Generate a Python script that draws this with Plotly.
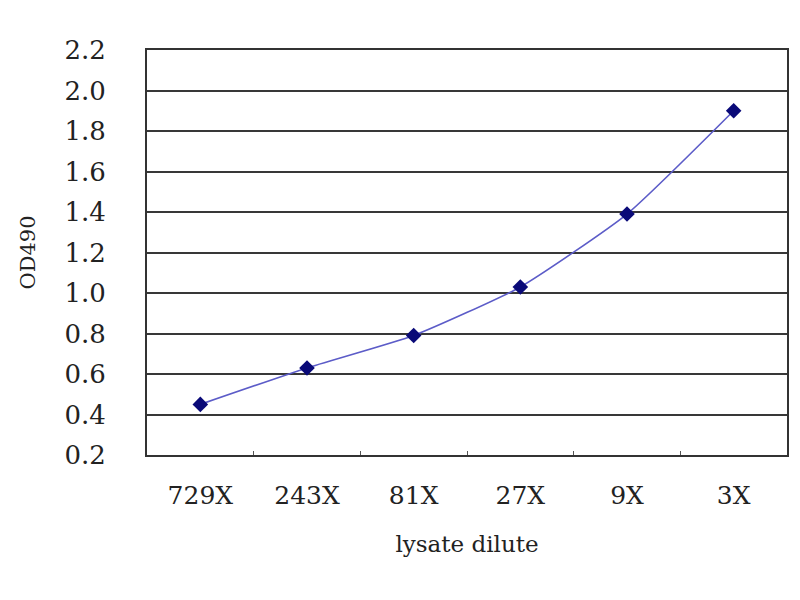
import plotly.graph_objects as go

categories = ["729X", "243X", "81X", "27X", "9X", "3X"]
od_values = [0.45, 0.63, 0.79, 1.03, 1.39, 1.90]
y_ticks = [0.2, 0.4, 0.6, 0.8, 1.0, 1.2, 1.4, 1.6, 1.8, 2.0, 2.2]
y_tick_labels = ["0.2", "0.4", "0.6", "0.8", "1.0", "1.2", "1.4", "1.6", "1.8", "2.0", "2.2"]

fig = go.Figure()
fig.add_trace(go.Scatter(
    x=categories, y=od_values, mode="lines+markers",
    line=dict(color="#5c5cc8", width=1.6, shape="spline", smoothing=0.5),
    marker=dict(symbol="diamond", size=12, color="#0a0a78"),
    showlegend=False,
))

font_family = "DejaVu Serif, Liberation Serif, serif"
fig.update_layout(
    width=800, height=600,
    margin=dict(l=139, r=21, t=42, b=153),
    paper_bgcolor="white", plot_bgcolor="white",
    font=dict(family=font_family, color="#222222"),
    xaxis=dict(
        type="category", range=[-0.5, 5.5],
        showgrid=False, showline=True, linecolor="#333333", linewidth=2,
        mirror=True, ticks="inside", tickson="boundaries", ticklen=4,
        tickcolor="#555555", tickfont=dict(size=25),
        title=dict(text="lysate dilute", font=dict(size=23), standoff=27),
        ticklabelstandoff=17,
    ),
    yaxis=dict(
        range=[0.2, 2.2], tickvals=y_ticks, ticktext=y_tick_labels,
        showgrid=True, gridcolor="#383838", gridwidth=2,
        showline=True, linecolor="#333333", linewidth=2, mirror=True,
        ticks="", tickfont=dict(size=26), ticklabelstandoff=34,
        title=dict(text="OD490", font=dict(size=21), standoff=23),
        zeroline=False,
    ),
)

fig.write_html("out.html")
